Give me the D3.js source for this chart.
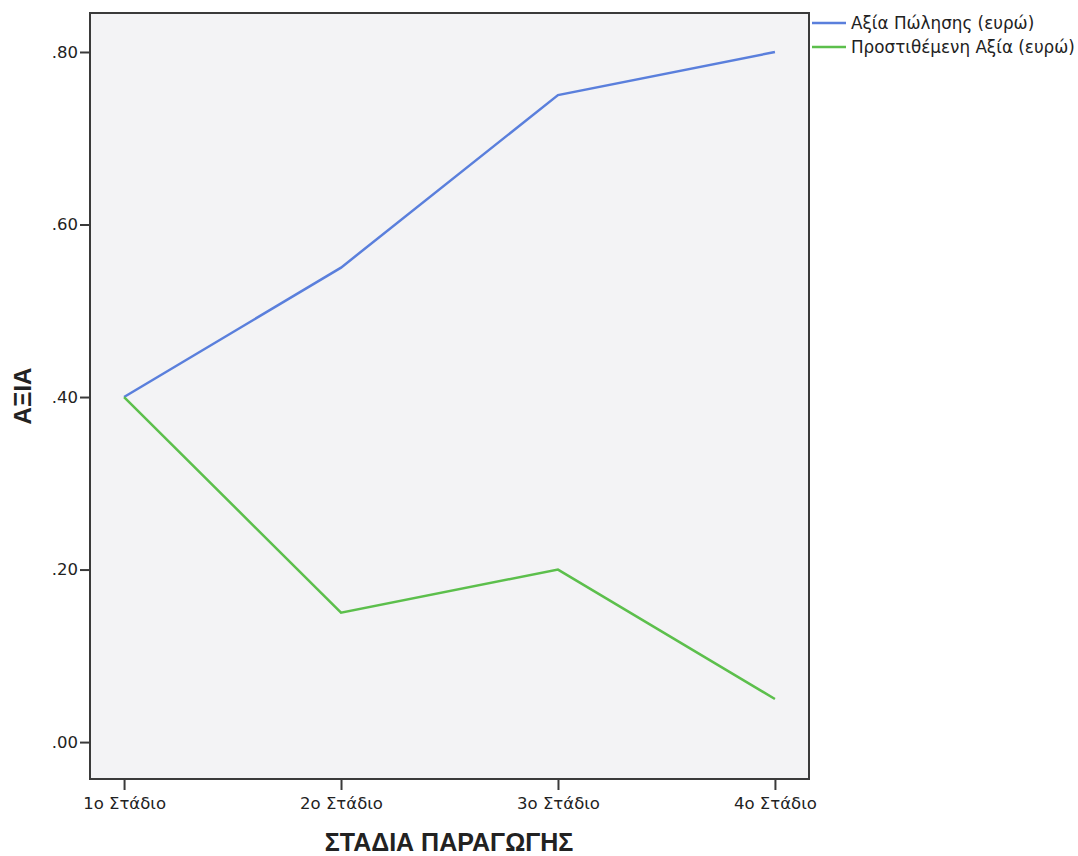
<!DOCTYPE html>
<html>
<head>
<meta charset="utf-8">
<script src="https://cdn.jsdelivr.net/npm/d3@7"></script>
<style>
  body { margin: 0; background: #fff; }
  svg { font-family: "DejaVu Sans", sans-serif; }
</style>
</head>
<body>
<script>
// chart data
var stages = ["1ο Στάδιο", "2ο Στάδιο", "3ο Στάδιο", "4ο Στάδιο"];
var salesValue = [0.40, 0.55, 0.75, 0.80];
var addedValue = [0.40, 0.15, 0.20, 0.05];
var seriesNames = ["Αξία Πώλησης (ευρώ)", "Προστιθέμενη Αξία (ευρώ)"];
var seriesColors = ["#5a7fdc", "#5cbf4c"];
var yTicks = [0, 0.2, 0.4, 0.6, 0.8];

var W = 1078, H = 856;
var plot = { left: 90, top: 13, right: 809, bottom: 779 };

var svg = d3.select("body").append("svg")
    .attr("width", W)
    .attr("height", H);

var x = d3.scalePoint()
    .domain(stages)
    .range([plot.left, plot.right])
    .padding(0.157);

var y = d3.scaleLinear()
    .domain([-0.0428, 0.8452])
    .range([plot.bottom, plot.top]);

// plot background
svg.append("rect")
    .attr("x", plot.left)
    .attr("y", plot.top)
    .attr("width", plot.right - plot.left)
    .attr("height", plot.bottom - plot.top)
    .attr("fill", "#f3f3f5")
    .attr("stroke", "#3a3a3a")
    .attr("stroke-width", 2);

// axes
var yAxis = svg.append("g")
    .attr("transform", "translate(" + plot.left + ",0)")
    .call(d3.axisLeft(y).tickValues(yTicks).tickSize(10).tickPadding(2)
        .tickFormat(function(d) { return d3.format(".2f")(d).replace(/^0/, ""); }));

var xAxis = svg.append("g")
    .attr("transform", "translate(0," + plot.bottom + ")")
    .call(d3.axisBottom(x).tickSize(11).tickPadding(7));

[xAxis, yAxis].forEach(function(a) {
    a.select(".domain").remove();
    a.selectAll("line").attr("stroke", "#3a3a3a").attr("stroke-width", 2);
    a.selectAll("text")
        .attr("fill", "#222")
        .style("font-size", "16.5px")
        .style("font-family", "'DejaVu Sans', sans-serif");
});

// lines
var line = d3.line()
    .x(function(d, i) { return x(stages[i]); })
    .y(function(d) { return y(d); });

[salesValue, addedValue].forEach(function(s, i) {
    svg.append("path")
        .datum(s)
        .attr("d", line)
        .attr("fill", "none")
        .attr("stroke", seriesColors[i])
        .attr("stroke-width", 2.5);
});

// legend
var legend = svg.append("g");
seriesNames.forEach(function(name, i) {
    var ly = 23 + i * 24;
    legend.append("line")
        .attr("x1", 812).attr("x2", 846)
        .attr("y1", ly).attr("y2", ly)
        .attr("stroke", seriesColors[i])
        .attr("stroke-width", 2.5);
    legend.append("text")
        .attr("x", 851).attr("y", ly + 6)
        .attr("fill", "#222")
        .style("font-size", "16.8px")
        .text(name);
});

// axis titles
svg.append("text")
    .attr("transform", "translate(31," + 396 + ") rotate(-90)")
    .attr("text-anchor", "middle")
    .attr("fill", "#222")
    .style("font-family", "'Liberation Sans', Arial, sans-serif")
    .style("font-size", "24px")
    .style("font-weight", "bold")
    .text("ΑΞΙΑ");

svg.append("text")
    .attr("x", 449)
    .attr("y", 851)
    .attr("text-anchor", "middle")
    .attr("fill", "#222")
    .style("font-family", "'Liberation Sans', Arial, sans-serif")
    .style("font-size", "25px")
    .style("font-weight", "bold")
    .text("ΣΤΑΔΙΑ ΠΑΡΑΓΩΓΗΣ");
</script>
</body>
</html>
